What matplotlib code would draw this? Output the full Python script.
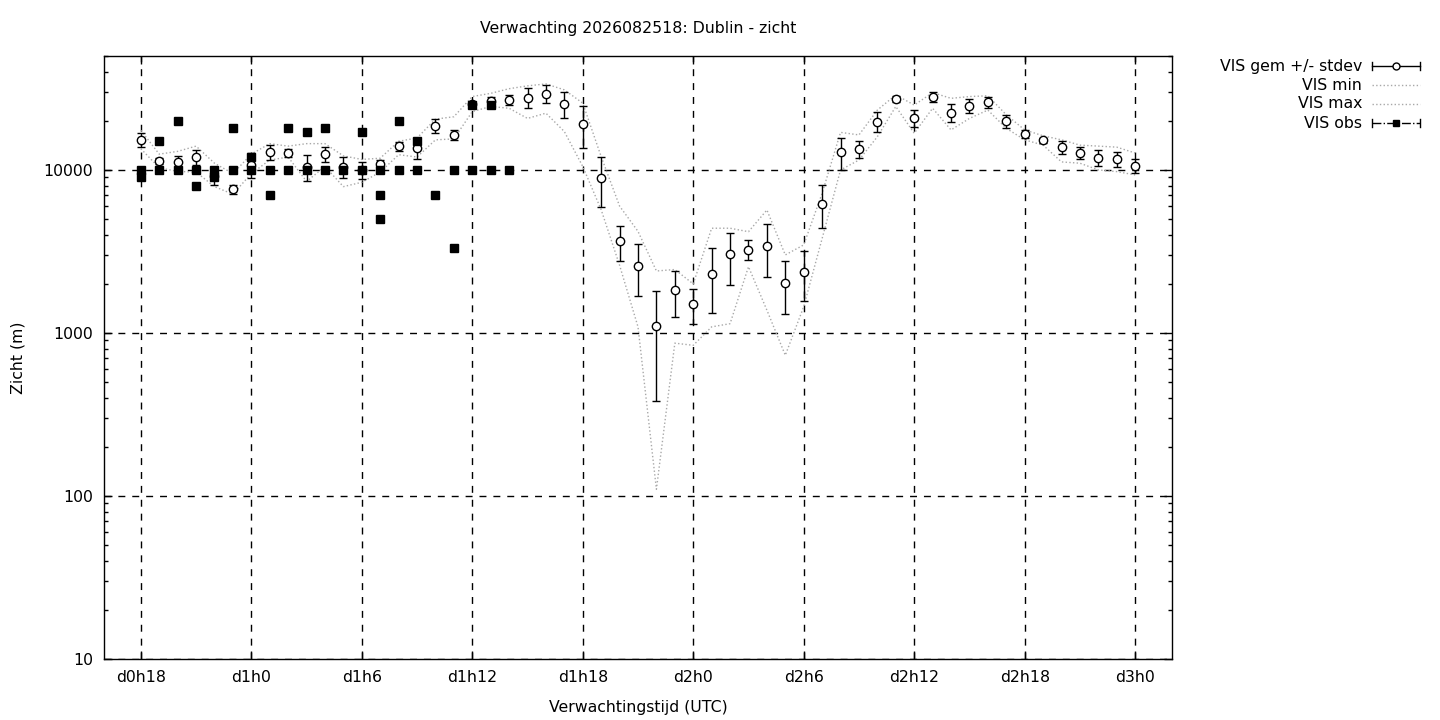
import numpy as np
import matplotlib
matplotlib.use("Agg")
import matplotlib.pyplot as plt
from matplotlib.lines import Line2D
from matplotlib.ticker import FixedLocator, LogLocator, NullFormatter

# forecast hours, counted from d0h0
hours = list(range(18, 73))

vis_mean = [15300, 11350, 11150, 12000, 9170, 7620, 10780, 12900, 12660, 10420,
            12480, 10450, 10000, 10880, 13990, 13600, 18640, 16400, 25250, 26300,
            26950, 27800, 29400, 25370, 19200, 8980, 3650, 2590, 1100, 1830,
            1500, 2310, 3030, 3250, 3420, 2030, 2370, 6220, 12830, 13430,
            19800, 27400, 20800, 28100, 22500, 24700, 26000, 19840, 16600, 15200,
            13750, 12700, 11900, 11600, 10630]
vis_sd = [1500, 420, 1030, 1270, 1080, 480, 1880, 1360, 720, 1890,
          1300, 1520, 1200, 640, 860, 1900, 1840, 1230, 1000, 1850,
          1900, 3900, 3800, 4600, 5500, 3080, 900, 910, 720, 580,
          370, 990, 1060, 460, 1220, 730, 800, 1830, 2830, 1630,
          2790, 1170, 2520, 1870, 2900, 2430, 2130, 1820, 980, 570,
          1260, 1080, 1370, 1220, 1000]
vis_min = [13500, 10300, 9800, 9700, 7900, 7100, 9500, 11500, 12000, 8500,
           10500, 7900, 8400, 9700, 12400, 12000, 15300, 15500, 22800, 24500,
           23900, 20700, 22300, 17200, 10500, 5700, 2600, 1090, 110, 866,
           840, 1090, 1140, 2550, 1380, 730, 1450, 3800, 10000, 11500,
           16000, 24500, 16800, 23900, 17600, 20700, 23300, 18000, 15300, 14200,
           11200, 11000, 10000, 9770, 9320]
vis_max = [17500, 12500, 13000, 14000, 11000, 9500, 12500, 14500, 14000, 14500,
           14500, 12200, 11600, 11800, 15000, 15700, 20500, 21200, 28200, 29500,
           31500, 32800, 33700, 31000, 25700, 12070, 6000, 4200, 2400, 2450,
           2000, 4390, 4390, 4180, 5680, 3010, 3470, 7200, 17000, 16400,
           23300, 28900, 25000, 29800, 27500, 28200, 28500, 21800, 17600, 16200,
           15300, 14200, 14000, 13800, 12700]

# observations (several per hour)
obs_hours = [18, 18, 19, 19, 20, 20, 21, 21, 22, 22, 23, 23, 24, 24, 25, 25,
             26, 26, 27, 27, 28, 28, 29, 30, 30, 31, 31, 31, 32, 32, 33, 33,
             34, 35, 35, 36, 36, 37, 37, 38]
obs_vis = [10000, 9100, 15000, 10000, 20000, 10000, 10000, 8000, 10000, 9100,
           18000, 10000, 12000, 10000, 10000, 7000, 18000, 10000, 17000, 10000,
           18000, 10000, 10000, 17000, 10000, 10000, 7000, 5000, 20000, 10000,
           15000, 10000, 7000, 10000, 3300, 25000, 10000, 25000, 10000, 10000]

tick_hours = list(range(18, 73, 6))
tick_labels = ["d0h18", "d1h0", "d1h6", "d1h12", "d1h18", "d2h0", "d2h6",
               "d2h12", "d2h18", "d3h0"]

plt.rcParams["font.family"] = ["DejaVu Sans"]
plt.rcParams["font.size"] = 11.3

fig = plt.figure(figsize=(14.4, 7.2), dpi=100)
ax = fig.add_axes([104 / 1440, 1 - 659 / 720, (1172 - 104) / 1440, (659 - 56) / 720])

grey = "#a8a8a8"
ax.plot(hours, vis_min, linestyle=":", color=grey, lw=1.0)
ax.plot(hours, vis_max, linestyle=":", color=grey, lw=1.0)

ax.errorbar(hours, vis_mean, yerr=vis_sd, fmt="o", color="black", ecolor="black",
            elinewidth=1.0, capsize=2.8, capthick=1.0, markersize=6,
            markerfacecolor="white", markeredgecolor="black", markeredgewidth=1.0,
            zorder=3)
ax.plot(obs_hours, obs_vis, "s", color="black", markersize=5.5, zorder=4)

ax.set_yscale("log")
ax.set_ylim(10, 50000)
ax.set_xlim(16, 74)
ax.yaxis.set_major_locator(FixedLocator([10, 100, 1000, 10000]))
ax.set_yticklabels(["10", "100", "1000", "10000"])
ax.yaxis.set_minor_locator(LogLocator(base=10, subs=np.arange(2, 10)))
ax.yaxis.set_minor_formatter(NullFormatter())
ax.set_xticks(tick_hours)
ax.set_xticklabels(tick_labels)

ax.tick_params(which="both", direction="in", top=True, right=True, width=1)
ax.tick_params(which="major", length=6, pad=8)
ax.tick_params(which="minor", length=3)
ax.grid(True, which="major", color="black", linestyle=(0, (5, 5)), lw=1)
for s in ax.spines.values():
    s.set_linewidth(1)

ax.set_xlabel("Verwachtingstijd (UTC)", labelpad=11)
ax.set_ylabel("Zicht (m)", labelpad=13)
fig.text(638 / 1440, 1 - 29 / 720, "Verwachting 2026082518: Dublin - zicht",
         ha="center", va="center")

# legend drawn by hand so the labels are right-aligned like gnuplot
labels = ["VIS gem +/- stdev", "VIS min", "VIS max", "VIS obs"]
rows = [66, 85, 104, 123]
x0, x1 = 1372 / 1440, 1420 / 1440
xm = (x0 + x1) / 2
for lab, r in zip(labels, rows):
    yy = 1 - r / 720
    fig.text(1362 / 1440, yy, lab, ha="right", va="center")
cap = 4 / 720
y = 1 - rows[0] / 720
fig.add_artist(Line2D([x0, x1], [y, y], color="black", lw=1))
for xx in (x0, x1):
    fig.add_artist(Line2D([xx, xx], [y - cap, y + cap], color="black", lw=1))
fig.add_artist(Line2D([xm], [y], marker="o", markersize=5, markerfacecolor="white",
                      markeredgecolor="black", lw=0))
for r in rows[1:3]:
    y = 1 - r / 720
    fig.add_artist(Line2D([x0, x1], [y, y], color=grey, lw=1, linestyle=":"))
y = 1 - rows[3] / 720
fig.add_artist(Line2D([x0, x1], [y, y], color="black", lw=1, linestyle="-."))
for xx in (x0, x1):
    fig.add_artist(Line2D([xx, xx], [y - cap, y + cap], color="black", lw=1))
fig.add_artist(Line2D([xm], [y], marker="s", markersize=5, color="black", lw=0))

fig.savefig("out.png", dpi=100)
